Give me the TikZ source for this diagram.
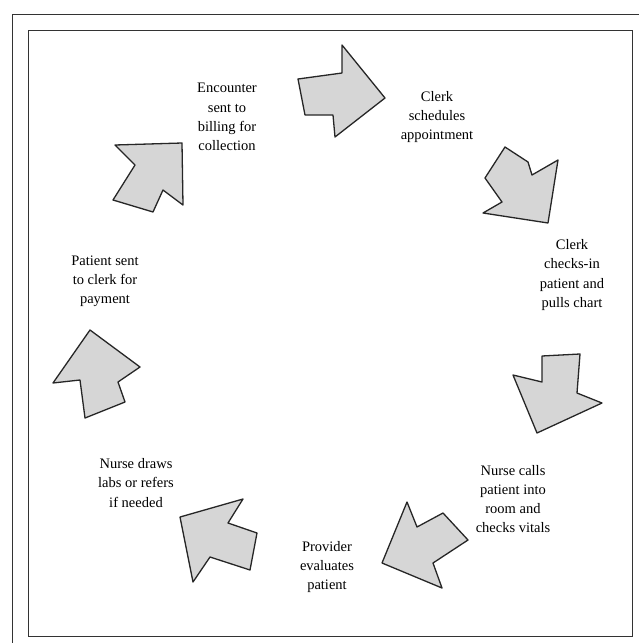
\documentclass[tikz,border=0pt]{standalone}
\usepackage{fontspec}
\setmainfont{Liberation Serif}
\begin{document}
\begin{tikzpicture}[x=1pt,y=-1pt,
    flowarrow/.style={draw=black!85, line width=1.3pt, line join=round, fill=black!16},
    steptext/.style={align=center, font=\fontsize{14.5}{19.2}\selectfont, inner sep=0pt},
    frameline/.style={draw=black!80, line width=1pt}]
    \useasboundingbox (0,0) rectangle (639,643);
    % Frames
    \draw[frameline] (12,643) -- (12,14) -- (639,14);
    \draw[frameline] (28,30) rectangle (632,636);
    % Arrows around the cycle
    \filldraw[flowarrow] (298,79) -- (342,73) -- (342,45) -- (385,98) -- (335,137) -- (333,115) -- (305,115) -- cycle;
    \filldraw[flowarrow] (505,147) -- (528,162) -- (532,175) -- (558,160) -- (548,223) -- (483,213) -- (502,202) -- (485,178) -- cycle;
    \filldraw[flowarrow] (542,356) -- (580,354) -- (577,393) -- (602,403) -- (537,433) -- (513,375) -- (542,382) -- cycle;
    \filldraw[flowarrow] (407,502) -- (417,527) -- (443,513) -- (468,540) -- (433,563) -- (442,588) -- (382,563) -- cycle;
    \filldraw[flowarrow] (180,517) -- (243,499) -- (228,523) -- (257,533) -- (250,570) -- (210,557) -- (193,582) -- cycle;
    \filldraw[flowarrow] (90,330) -- (140,367) -- (118,382) -- (125,402) -- (85,418) -- (80,380) -- (53,383) -- cycle;
    \filldraw[flowarrow] (115,145) -- (182,143) -- (183,205) -- (163,190) -- (153,212) -- (113,200) -- (135,165) -- cycle;
    % Step labels
    \node[steptext] (billing) at (227,117) {Encounter\\sent to\\billing for\\collection};
    \node[steptext] (schedule) at (437,117) {Clerk\\schedules\\appointment};
    \node[steptext] (checkin) at (572,275) {Clerk\\checks-in\\patient and\\pulls chart};
    \node[steptext] (vitals) at (513,499) {Nurse calls\\patient into\\room and\\checks vitals};
    \node[steptext] (evaluate) at (327,567) {Provider\\evaluates\\patient};
    \node[steptext] (labs) at (136,483) {Nurse draws\\labs or refers\\if needed};
    \node[steptext] (payment) at (105,281) {Patient sent\\to clerk for\\payment};
\end{tikzpicture}
\end{document}
